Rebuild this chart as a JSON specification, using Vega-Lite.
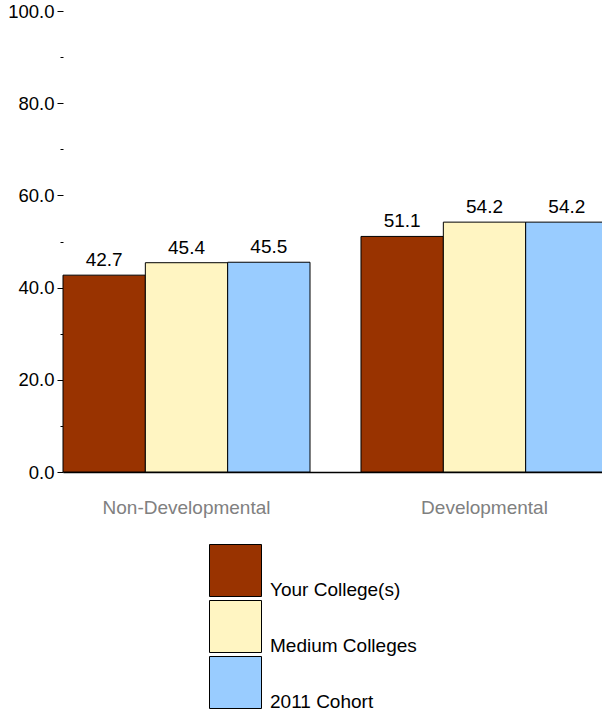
{
  "$schema": "https://vega.github.io/schema/vega-lite/v6.json",
  "autosize": "none",
  "width": 539,
  "height": 461,
  "padding": {"left": 63, "top": 11, "right": 0, "bottom": 240},
  "background": "white",
  "config": {
    "font": "Liberation Sans",
    "view": {"stroke": null}
  },
  "data": {
    "values": [
      {"group": "Non-Developmental", "series": "Your College(s)", "value": 42.7},
      {"group": "Non-Developmental", "series": "Medium Colleges", "value": 45.4},
      {"group": "Non-Developmental", "series": "2011 Cohort", "value": 45.5},
      {"group": "Developmental", "series": "Your College(s)", "value": 51.1},
      {"group": "Developmental", "series": "Medium Colleges", "value": 54.2},
      {"group": "Developmental", "series": "2011 Cohort", "value": 54.2}
    ]
  },
  "encoding": {
    "x": {
      "field": "group",
      "type": "nominal",
      "sort": ["Non-Developmental", "Developmental"],
      "scale": {"range": [0, 545], "paddingInner": 0.1711, "paddingOuter": 0},
      "axis": {
        "title": null,
        "ticks": false,
        "labelAngle": 0,
        "labelColor": "#808080",
        "labelFontSize": 19,
        "labelPadding": 26,
        "domainColor": "black",
        "domainWidth": 1.5
      }
    },
    "xOffset": {
      "field": "series",
      "type": "nominal",
      "sort": ["Your College(s)", "Medium Colleges", "2011 Cohort"],
      "scale": {"paddingInner": 0, "paddingOuter": 0}
    },
    "y": {
      "field": "value",
      "type": "quantitative",
      "scale": {"domain": [0, 100], "nice": false},
      "axis": {
        "title": null,
        "domain": false,
        "grid": false,
        "values": [0, 10, 20, 30, 40, 50, 60, 70, 80, 90, 100],
        "labelExpr": "datum.value % 20 === 0 ? format(datum.value, '.1f') : ''",
        "labelColor": "black",
        "labelFontSize": 18.5,
        "labelPadding": 3,
        "tickColor": "black",
        "tickWidth": 1,
        "tickSize": {"condition": {"test": "datum.value % 20 === 0", "value": 6}, "value": 3}
      }
    }
  },
  "layer": [
    {
      "mark": {"type": "bar", "stroke": "black", "strokeWidth": 1},
      "encoding": {
        "color": {
          "field": "series",
          "type": "nominal",
          "sort": ["Your College(s)", "Medium Colleges", "2011 Cohort"],
          "scale": {
            "domain": ["Your College(s)", "Medium Colleges", "2011 Cohort"],
            "range": ["#993300", "#FFF5C2", "#99CCFF"]
          },
          "legend": {
            "title": null,
            "orient": "none",
            "legendX": 146,
            "legendY": 533,
            "direction": "vertical",
            "padding": 0,
            "symbolType": "square",
            "symbolSize": 2704,
            "symbolStrokeColor": "black",
            "symbolStrokeWidth": 1,
            "symbolOpacity": 1,
            "rowPadding": -4.5,
            "labelFontSize": 19,
            "labelColor": "black",
            "labelOffset": 8,
            "labelLimit": 300,
            "labelBaseline": "alphabetic",
            "encode": {"labels": {"update": {"dy": {"value": 25}}}}
          }
        }
      }
    },
    {
      "mark": {"type": "text", "baseline": "alphabetic", "dy": -9, "fontSize": 19, "color": "black"},
      "encoding": {
        "text": {"field": "value", "type": "quantitative", "format": ".1f"}
      }
    }
  ]
}
